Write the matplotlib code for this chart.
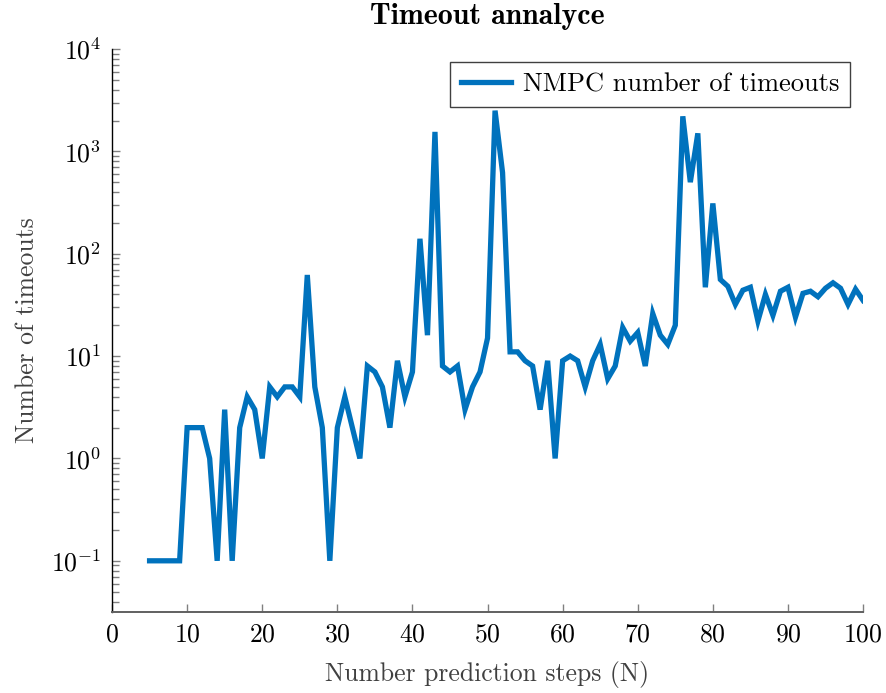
import matplotlib

matplotlib.use("Agg")

import matplotlib.pyplot as plt
import numpy as np
from matplotlib.ticker import LogLocator, NullFormatter

# number of prediction steps N
steps = list(range(5, 101))

# timeouts per N (0 timeouts plotted as 0.1 on the log axis)
timeouts = [
    0.1, 0.1, 0.1, 0.1, 0.1,          # 5-9
    2, 2, 2, 1, 0.1,                  # 10-14
    3, 0.1, 2, 4, 3,                  # 15-19
    1, 5, 4, 5, 5,                    # 20-24
    4, 62, 5, 2, 0.1,                 # 25-29
    2, 4, 2, 1, 8,                    # 30-34
    7, 5, 2, 9, 4,                    # 35-39
    7, 140, 16, 1550, 8,              # 40-44
    7, 8, 3, 5, 7,                    # 45-49
    15, 2500, 620, 11, 11,            # 50-54
    9, 8, 3, 9, 1,                    # 55-59
    9, 10, 9, 5, 9,                   # 60-64
    13, 6, 8, 19, 14,                 # 65-69
    17, 8, 26, 16, 13,                # 70-74
    20, 2200, 500, 1500, 47,          # 75-79
    310, 56, 48, 32, 44,              # 80-84
    47, 22, 40, 25, 43,               # 85-89
    47, 24, 41, 43, 38,               # 90-94
    46, 52, 46, 32, 45,               # 95-99
    35,                               # 100
]

x_ticks = list(range(0, 101, 10))

line_color = "#0072bd"
tick_gray = "#808080"

plt.rcParams["font.family"] = "serif"
plt.rcParams["font.serif"] = ["cmr10"]
plt.rcParams["mathtext.fontset"] = "cm"
plt.rcParams["axes.formatter.use_mathtext"] = True

fig = plt.figure(figsize=(8.87, 6.93), dpi=100)
ax = fig.add_axes([0.1263, 0.1169, 0.973 - 0.1263, 0.9293 - 0.1169])

ax.plot(steps, timeouts, color=line_color, lw=3.8, label="NMPC number of timeouts",
        solid_joinstyle="miter")

ax.set_yscale("log")
ax.set_xlim(0, 100)
ax.set_ylim(10 ** -1.5, 1e4)
ax.set_xticks(x_ticks)
ax.yaxis.set_major_locator(LogLocator(base=10, numticks=10))
ax.yaxis.set_minor_locator(LogLocator(base=10, subs=np.arange(2, 10), numticks=20))
ax.yaxis.set_minor_formatter(NullFormatter())

for side in ("top", "right"):
    ax.spines[side].set_visible(False)
ax.spines["left"].set_color("black")
ax.spines["bottom"].set_color("#606060")
ax.spines["left"].set_linewidth(1.0)
ax.spines["bottom"].set_linewidth(1.4)

ax.tick_params(axis="both", which="major", direction="in", length=6, width=1.0,
               color=tick_gray, labelsize=18.5, pad=8)
ax.tick_params(axis="y", which="minor", direction="in", length=5, width=1.0,
               color=tick_gray)

ax.set_xlabel("Number prediction steps (N)", fontsize=18.5, color="#404040", labelpad=10)
ax.set_ylabel("Number of timeouts", fontsize=18.5, color="#404040", labelpad=8)
ax.set_title("Timeout annalyce", fontsize=21.5, family="cmb10", pad=18)

leg = ax.legend(loc="upper right", fontsize=19, fancybox=False, framealpha=1,
                edgecolor="#404040", borderpad=0.4, handlelength=1.9,
                handletextpad=0.45, borderaxespad=0.5)
leg.get_frame().set_linewidth(1.0)

fig.savefig("out.png", dpi=100)
